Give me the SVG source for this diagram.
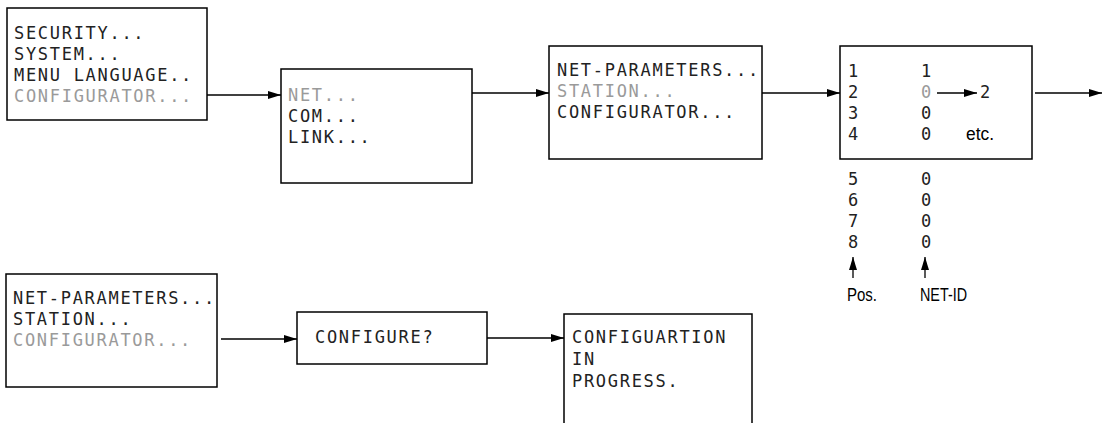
<svg xmlns="http://www.w3.org/2000/svg" width="1102" height="423" viewBox="0 0 1102 423">
<style>
.box{fill:#fff;stroke:#000;stroke-width:1.5}
.lcd{font-family:"DejaVu Sans Mono","Liberation Mono",monospace;font-size:17px;letter-spacing:1.7px;fill:#222}
.dim{fill:#9a9a9a}
.sans{font-family:"Liberation Sans",Arial,sans-serif;font-size:18px;fill:#000}
.wire{stroke:#000;stroke-width:1.3;fill:none;marker-end:url(#ah)}
</style>
<defs>
<marker id="ah" viewBox="0 0 13 8" refX="13" refY="4" markerWidth="13" markerHeight="8" markerUnits="userSpaceOnUse" orient="auto">
<path d="M0,0 L13,4 L0,8 Z" fill="#000"/>
</marker>
</defs>
<rect width="1102" height="423" fill="#fff"/>
<g id="menu-main">
<rect class="box" x="7" y="8" width="200" height="112"/>
<text class="lcd" x="14" y="38.5">SECURITY...</text>
<text class="lcd" x="14" y="59.5">SYSTEM...</text>
<text class="lcd" x="14" y="80.5">MENU LANGUAGE..</text>
<text class="lcd dim" x="14" y="101.5">CONFIGURATOR...</text>
</g>
<g id="menu-net">
<rect class="box" x="281" y="69" width="191" height="114"/>
<text class="lcd dim" x="288" y="101">NET...</text>
<text class="lcd" x="288" y="122">COM...</text>
<text class="lcd" x="288" y="143">LINK...</text>
</g>
<g id="menu-station">
<rect class="box" x="549" y="46" width="213" height="113"/>
<text class="lcd" x="557" y="76">NET-PARAMETERS...</text>
<text class="lcd dim" x="557" y="97">STATION...</text>
<text class="lcd" x="557" y="118">CONFIGURATOR...</text>
</g>
<g id="station-list">
<rect class="box" x="840" y="46" width="192" height="113"/>
<text class="lcd" x="848" y="77">1</text>
<text class="lcd" x="848" y="98">2</text>
<text class="lcd" x="848" y="119">3</text>
<text class="lcd" x="848" y="140">4</text>
<text class="lcd" x="921" y="77">1</text>
<text class="lcd dim" x="921" y="98">0</text>
<text class="lcd" x="921" y="119">0</text>
<text class="lcd" x="921" y="140">0</text>
<text class="lcd" x="980" y="98">2</text>
<text class="sans" x="966" y="140" textLength="28" lengthAdjust="spacingAndGlyphs">etc.</text>
<text class="lcd" x="848" y="185">5</text>
<text class="lcd" x="848" y="206">6</text>
<text class="lcd" x="848" y="227">7</text>
<text class="lcd" x="848" y="248">8</text>
<text class="lcd" x="921" y="185">0</text>
<text class="lcd" x="921" y="206">0</text>
<text class="lcd" x="921" y="227">0</text>
<text class="lcd" x="921" y="248">0</text>
<text class="sans" x="847" y="301" textLength="30" lengthAdjust="spacingAndGlyphs">Pos.</text>
<text class="sans" x="920" y="301" textLength="47" lengthAdjust="spacingAndGlyphs">NET-ID</text>
</g>
<g id="menu-config">
<rect class="box" x="6" y="274" width="211" height="113"/>
<text class="lcd" x="13" y="304">NET-PARAMETERS...</text>
<text class="lcd" x="13" y="325">STATION...</text>
<text class="lcd dim" x="13" y="346">CONFIGURATOR...</text>
</g>
<g id="configure">
<rect class="box" x="297" y="312" width="190" height="52"/>
<text class="lcd" x="315" y="343">CONFIGURE?</text>
</g>
<g id="progress">
<rect class="box" x="564" y="314" width="188" height="130"/>
<text class="lcd" x="572" y="343">CONFIGUARTION</text>
<text class="lcd" x="572" y="365">IN</text>
<text class="lcd" x="572" y="387">PROGRESS.</text>
</g>
<g id="connectors">
<line class="wire" x1="207" y1="95" x2="281" y2="95"/>
<line class="wire" x1="472" y1="93" x2="549" y2="93"/>
<line class="wire" x1="762" y1="93" x2="840" y2="93"/>
<line class="wire" x1="1035" y1="93" x2="1102" y2="93"/>
<line class="wire" x1="937" y1="93" x2="977" y2="93"/>
<line class="wire" x1="853" y1="278" x2="853" y2="257"/>
<line class="wire" x1="925" y1="278" x2="925" y2="257"/>
<line class="wire" x1="221" y1="339" x2="297" y2="339"/>
<line class="wire" x1="487" y1="338" x2="564" y2="338"/>
</g>
</svg>
